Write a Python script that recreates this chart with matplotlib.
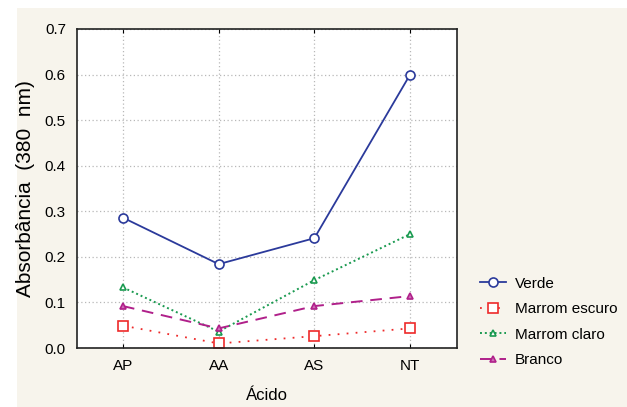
import matplotlib.pyplot as plt
from matplotlib.patches import Rectangle

acidos = ["AP", "AA", "AS", "NT"]
verde = [0.286, 0.184, 0.241, 0.600]
marrom_escuro = [0.049, 0.010, 0.026, 0.043]
marrom_claro = [0.133, 0.036, 0.149, 0.250]
branco = [0.092, 0.043, 0.092, 0.114]

plt.rcParams["font.family"] = ["Liberation Sans", "DejaVu Sans"]

fig = plt.figure(figsize=(6.27, 4.07), dpi=100, facecolor="white")
# beige panel behind the plot
fig.patches.append(Rectangle((17 / 627, 0), 1 - 17 / 627, 1 - 8 / 407,
                             transform=fig.transFigure, facecolor="#f7f4ec",
                             edgecolor="none", zorder=-10))

ax = fig.add_axes([77 / 627, 1 - 348 / 407, 380 / 627, 319 / 407])
ax.set_facecolor("white")

x = range(len(acidos))
ax.plot(x, verde, color="#2b3a9b", lw=1.3, ls="-", marker="o", ms=6.5,
        mfc="white", mec="#2b3a9b", mew=1.2, label="Verde")
ax.plot(x, marrom_escuro, color="#ee2a2a", lw=1.3, ls=(0, (1, 4)), marker="s", ms=6.5,
        mfc="white", mec="#ee2a2a", mew=1.2, label="Marrom escuro")
ax.plot(x, marrom_claro, color="#1a9a50", lw=1.4, ls=(0, (1, 1.5)), marker="^", ms=4,
        mfc="white", mec="#1a9a50", mew=1.2, label="Marrom claro")
ax.plot(x, branco, color="#b0208a", lw=1.4, ls=(0, (6, 4)), marker="^", ms=5,
        mfc="#d070b8", mec="#b0208a", mew=1.2, label="Branco")

ax.set_xlim(-0.48, 3.49)
ax.set_ylim(0, 0.7)
ax.set_xticks(list(x))
ax.set_xticklabels(acidos)
ax.set_yticks([i / 10 for i in range(8)])
ax.set_yticklabels([f"{i / 10:.1f}" for i in range(8)])
ax.tick_params(axis="x", direction="in", length=3, top=True, labelsize=11, pad=8)
ax.tick_params(axis="y", length=0, labelsize=11, pad=8)
ax.grid(True, color="#b8b8b8", ls=(0, (1, 2)), lw=0.9)
for s in ax.spines.values():
    s.set_linewidth(1.2)
    s.set_color("#222222")

ax.set_xlabel("Ácido", fontsize=12, labelpad=11)
ax.set_ylabel("Absorbância  (380  nm)", fontsize=15, labelpad=7)

fig.legend(loc="center left", bbox_to_anchor=(466 / 627, 1 - 322 / 407),
           frameon=False, fontsize=11, handlelength=1.7, handletextpad=0.6,
           labelspacing=0.75)

fig.savefig("out.png", dpi=100)
